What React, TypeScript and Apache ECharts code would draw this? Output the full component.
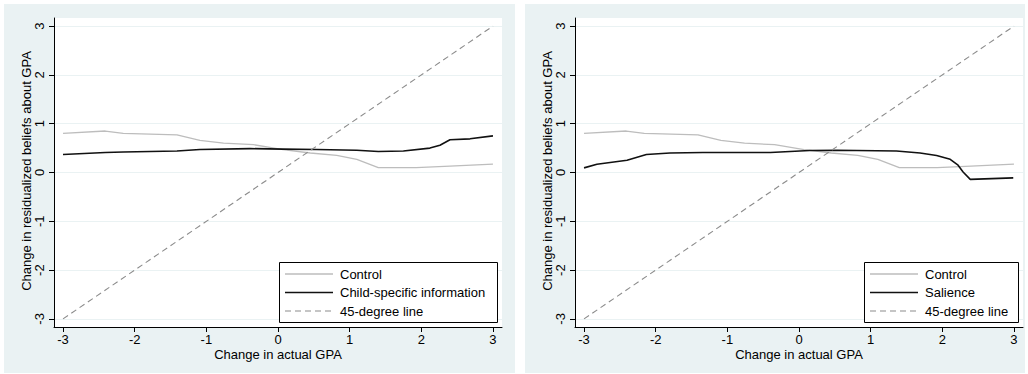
import React, { useEffect, useRef } from "react";
import * as echarts from "echarts";

const tickValues = [-3, -2, -1, 0, 1, 2, 3];

const controlX = [-3, -2.41, -2.16, -1.41, -1.09, -0.76, -0.34, 0.07, 0.45, 0.82, 1.1, 1.4, 1.93, 2.4, 3.0];
const controlY = [0.8, 0.85, 0.8, 0.77, 0.66, 0.6, 0.57, 0.47, 0.4, 0.35, 0.27, 0.1, 0.1, 0.13, 0.17];

const childX = [-3, -2.41, -2.16, -1.41, -1.09, -0.39, 0.07, 0.54, 1.1, 1.4, 1.75, 2.12, 2.26, 2.4, 2.68, 3.0];
const childY = [0.37, 0.41, 0.42, 0.44, 0.47, 0.49, 0.48, 0.47, 0.455, 0.43, 0.44, 0.5, 0.56, 0.67, 0.69, 0.75];

const salienceX = [-3, -2.82, -2.4, -2.13, -1.8, -1.34, -0.4, 0.15, 0.53, 1.36, 1.69, 1.92, 2.11, 2.22, 2.29, 2.39, 2.99];
const salienceY = [0.095, 0.17, 0.25, 0.37, 0.4, 0.41, 0.41, 0.45, 0.455, 0.44, 0.4, 0.35, 0.27, 0.15, 0.01, -0.14, -0.11];

const diagX = [-3, 3];
const diagY = [-3, 3];

const xTitle = "Change in actual GPA";
const yTitle = "Change in residualized beliefs about GPA";
const controlName = "Control";
const diagName = "45-degree line";
const treatmentNames = ["Child-specific information", "Salience"];

const zip = (xs: number[], ys: number[]) => xs.map((x, i) => [x, ys[i]]);

const FONT = "'Liberation Sans', Arial, Helvetica, sans-serif";
const CONTROL_COLOR = "#bdbdbd";
const TREAT_COLOR = "#111111";
const DIAG_COLOR = "#8c8c8c";
const DASH = [6, 4];

export default function App() {
  const ref = useRef<HTMLDivElement>(null);
  useEffect(() => {
    if (!ref.current) return;
    const chart = echarts.init(ref.current, undefined, { renderer: "svg" });
    const grids = [
      { left: 54, top: 18, width: 448, height: 309 },
      { left: 575, top: 18, width: 448, height: 309 },
    ];
    const legendBoxes = [
      { x: 279, y: 262, w: 218, h: 60 },
      { x: 864, y: 262, w: 154, h: 60 },
    ];
    const treatments = [zip(childX, childY), zip(salienceX, salienceY)];
    const xAxes: any[] = [];
    const yAxes: any[] = [];
    const series: any[] = [];
    const graphics: any[] = [
      { type: "rect", shape: { x: 4, y: 4, width: 511, height: 369 }, style: { fill: "#eaf2f3" }, z: -10, silent: true },
      { type: "rect", shape: { x: 525, y: 4, width: 500, height: 369 }, style: { fill: "#eaf2f3" }, z: -10, silent: true },
    ];
    grids.forEach((g, i) => {
      xAxes.push({
        type: "value",
        gridIndex: i,
        min: -3.126,
        max: 3.126,
        axisLine: { show: true, onZero: false, lineStyle: { color: "#000", width: 1 } },
        axisTick: { show: true, length: 5, customValues: tickValues, lineStyle: { color: "#000" } },
        axisLabel: { customValues: tickValues, fontSize: 13, color: "#000", margin: 6, fontFamily: FONT },
        splitLine: { show: false },
      });
      yAxes.push({
        type: "value",
        gridIndex: i,
        min: -3.166,
        max: 3.166,
        axisLine: { show: true, onZero: false, lineStyle: { color: "#000", width: 1 } },
        axisTick: { show: true, length: 5, customValues: tickValues, lineStyle: { color: "#000" } },
        axisLabel: { customValues: tickValues, rotate: 90, fontSize: 13, color: "#000", margin: 8, fontFamily: FONT },
        splitLine: { show: true, lineStyle: { color: "#eaf2f3", width: 1 } },
      });
      series.push(
        {
          name: controlName,
          type: "line",
          xAxisIndex: i,
          yAxisIndex: i,
          data: zip(controlX, controlY),
          symbol: "none",
          lineStyle: { color: CONTROL_COLOR, width: 1.3 },
        },
        {
          name: treatmentNames[i],
          type: "line",
          xAxisIndex: i,
          yAxisIndex: i,
          data: treatments[i],
          symbol: "none",
          lineStyle: { color: TREAT_COLOR, width: 1.6 },
        },
        {
          name: diagName,
          type: "line",
          xAxisIndex: i,
          yAxisIndex: i,
          data: zip(diagX, diagY),
          symbol: "none",
          lineStyle: { color: DIAG_COLOR, width: 1.1, type: DASH },
        }
      );
      // axis titles
      const cx = g.left + g.width / 2;
      graphics.push({
        type: "text",
        x: cx,
        y: 354,
        silent: true,
        style: { text: xTitle, fontSize: 13, fill: "#000", font: `13px ${FONT}`, align: "center", verticalAlign: "middle" },
      });
      graphics.push({
        type: "text",
        x: g.left - 28,
        y: 171,
        rotation: Math.PI / 2,
        silent: true,
        style: { text: yTitle, fontSize: 13, fill: "#000", font: `13px ${FONT}`, align: "center", verticalAlign: "middle" },
      });
      // legend
      const b = legendBoxes[i];
      const rows = [
        { name: controlName, color: CONTROL_COLOR, width: 1.3, dash: null },
        { name: treatmentNames[i], color: TREAT_COLOR, width: 1.6, dash: null },
        { name: diagName, color: DIAG_COLOR, width: 1.1, dash: DASH },
      ];
      graphics.push({
        type: "rect",
        silent: true,
        shape: { x: b.x + 0.5, y: b.y + 0.5, width: b.w, height: b.h },
        style: { fill: "#fff", stroke: "#000", lineWidth: 1 },
        z: 10,
      });
      rows.forEach((r, k) => {
        const yy = b.y + 12 + k * 18.5;
        graphics.push({
          type: "line",
          silent: true,
          shape: { x1: b.x + 6, y1: yy, x2: b.x + 54, y2: yy },
          style: { stroke: r.color, lineWidth: r.width, lineDash: r.dash || undefined },
          z: 11,
        });
        graphics.push({
          type: "text",
          silent: true,
          x: b.x + 61,
          y: yy,
          style: { text: r.name, font: `13px ${FONT}`, fill: "#000", align: "left", verticalAlign: "middle" },
          z: 11,
        });
      });
    });
    chart.setOption({
      animation: false,
      backgroundColor: "#fff",
      textStyle: { fontFamily: FONT },
      graphic: graphics,
      grid: grids.map((g) => ({ ...g, show: true, backgroundColor: "#fff", borderWidth: 0 })),
      xAxis: xAxes,
      yAxis: yAxes,
      series,
    });
    return () => chart.dispose();
  }, []);
  return <div ref={ref} style={{ position: "fixed", left: 0, top: 0, width: 1028, height: 374 }} />;
}
